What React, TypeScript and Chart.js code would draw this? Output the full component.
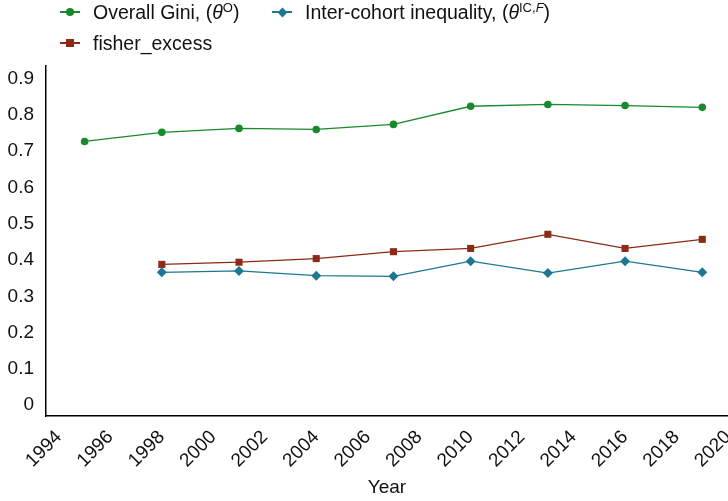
import React, { useEffect, useRef } from "react";
import { Chart, registerables } from "chart.js";

Chart.register(...registerables);

// Survey years and series values
const giniYears = [1995, 1998, 2001, 2004, 2007, 2010, 2013, 2016, 2019];
const giniValues = [0.727, 0.752, 0.763, 0.760, 0.774, 0.824, 0.829, 0.826, 0.821];
const cohortYears = [1998, 2001, 2004, 2007, 2010, 2013, 2016, 2019];
const fisherExcess = [0.388, 0.394, 0.404, 0.423, 0.432, 0.471, 0.432, 0.457];
const interCohort = [0.366, 0.370, 0.357, 0.355, 0.397, 0.364, 0.397, 0.366];

const GREEN = "#18892c";
const RED = "#8c2a15";
const BLUE = "#1c7890";
const FONT = '"Liberation Sans", Arial, Helvetica, sans-serif';

const toPoints = (xs: number[], ys: number[]) => xs.map((x, i) => ({ x, y: ys[i] }));

function LegendItem(props: { color: string; shape: string; left: number; top: number; children: React.ReactNode }) {
  const { color, shape, left, top, children } = props;
  let marker: React.CSSProperties = { position: "absolute", background: color };
  if (shape === "circle") marker = { ...marker, width: 8, height: 8, borderRadius: 4, left: 6, top: -4 };
  if (shape === "square") marker = { ...marker, width: 8, height: 8, left: 6, top: -4 };
  if (shape === "diamond") marker = { ...marker, width: 7, height: 7, left: 6.5, top: -3.5, transform: "rotate(45deg)" };
  return (
    <div style={{ position: "absolute", left, top, display: "flex", alignItems: "center", whiteSpace: "nowrap" }}>
      <div style={{ position: "relative", width: 20, height: 0, marginRight: 13 }}>
        <div style={{ position: "absolute", left: 0, top: -0.75, width: 20, height: 1.5, background: color }} />
        <div style={marker} />
      </div>
      <span style={{ fontFamily: FONT, fontSize: 19.5, color: "#111", lineHeight: "22px" }}>{children}</span>
    </div>
  );
}

const supStyle: React.CSSProperties = { fontSize: 13, verticalAlign: "7px", lineHeight: 0 };

export default function App() {
  const canvasRef = useRef<HTMLCanvasElement | null>(null);

  useEffect(() => {
    document.body.style.margin = "0";
    const canvas = canvasRef.current;
    if (!canvas) return;
    const chart = new Chart(canvas, {
      type: "line",
      data: {
        datasets: [
          {
            label: "Overall Gini",
            data: toPoints(giniYears, giniValues),
            borderColor: GREEN,
            backgroundColor: GREEN,
            borderWidth: 1.3,
            pointStyle: "circle",
            pointRadius: 3.8,
            pointBorderWidth: 0,
          },
          {
            label: "fisher_excess",
            data: toPoints(cohortYears, fisherExcess),
            borderColor: RED,
            backgroundColor: RED,
            borderWidth: 1.3,
            pointStyle: "rect",
            pointRadius: 5,
            pointBorderWidth: 0,
          },
          {
            label: "Inter-cohort inequality",
            data: toPoints(cohortYears, interCohort),
            borderColor: BLUE,
            backgroundColor: BLUE,
            borderWidth: 1.3,
            pointStyle: "rectRot",
            pointRadius: 5,
            pointBorderWidth: 0,
          },
        ],
      },
      options: {
        responsive: false,
        animation: false,
        layout: { autoPadding: false, padding: { top: 66, left: 0, right: 0, bottom: 0 } },
        plugins: { legend: { display: false }, tooltip: { enabled: false } },
        scales: {
          x: {
            type: "linear",
            min: 1993.5,
            max: 2020,
            grid: { display: false, drawTicks: false },
            border: { display: true, color: "#000", width: 1.5 },
            ticks: {
              stepSize: 2,
              includeBounds: false,
              autoSkip: false,
              minRotation: 45,
              maxRotation: 45,
              padding: 10,
              color: "#111",
              font: { family: FONT, size: 19 },
              callback: (v: any) => String(v),
            },
            title: {
              display: true,
              text: "Year",
              color: "#111",
              font: { family: FONT, size: 19 },
              padding: { top: 0, bottom: 2 },
            },
            afterFit: (s: any) => {
              s.height = 85;
              s.paddingLeft = 0;
              s.paddingRight = 0;
            },
          },
          y: {
            type: "linear",
            min: -0.03,
            max: 0.935,
            grid: { display: false, drawTicks: false },
            border: { display: true, color: "#000", width: 1.5 },
            ticks: {
              stepSize: 0.1,
              includeBounds: false,
              padding: 12,
              color: "#111",
              font: { family: FONT, size: 19 },
              callback: (v: any) => String(Number(Number(v).toFixed(1))),
            },
            afterFit: (s: any) => {
              s.width = 46;
              s.paddingTop = 0;
              s.paddingBottom = 0;
            },
          },
        },
      },
    });
    return () => chart.destroy();
  }, []);

  return (
    <div style={{ position: "fixed", left: 0, top: 0, width: 728, height: 501, background: "#fff" }}>
      <canvas ref={canvasRef} width={728} height={501} style={{ position: "absolute", left: 0, top: 0 }} />
      <LegendItem color={GREEN} shape="circle" left={60} top={1}>
        Overall Gini, (<i>θ</i><sup style={supStyle}>O</sup>)
      </LegendItem>
      <LegendItem color={BLUE} shape="diamond" left={272} top={1}>
        Inter-cohort inequality, (<i>θ</i><sup style={supStyle}>IC,<i>F</i></sup>)
      </LegendItem>
      <LegendItem color={RED} shape="square" left={60} top={32}>
        fisher_excess
      </LegendItem>
    </div>
  );
}
